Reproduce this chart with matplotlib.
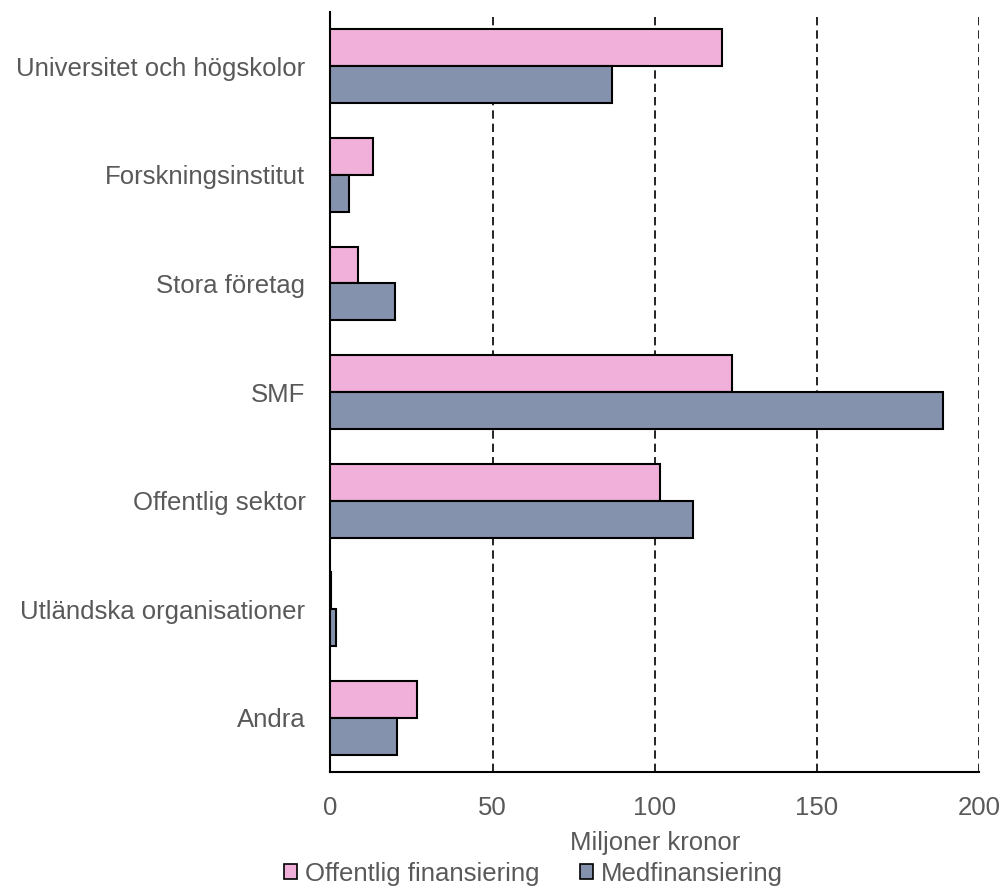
import matplotlib
matplotlib.use("Agg")
import matplotlib.pyplot as plt
from matplotlib.patches import Patch
import numpy as np

plt.rcParams['font.family'] = ['Liberation Sans', 'DejaVu Sans']

categories = [
    "Universitet och högskolor",
    "Forskningsinstitut",
    "Stora företag",
    "SMF",
    "Offentlig sektor",
    "Utländska organisationer",
    "Andra",
]
offentlig = [120.7, 13.2, 8.6, 123.8, 101.5, 0.2, 26.8]
medfin = [86.7, 5.8, 19.8, 189.0, 111.7, 1.7, 20.5]
series_names = ["Offentlig finansiering", "Medfinansiering"]
xticks = [0, 50, 100, 150, 200]

pink = "#F0B0D9"
slate = "#8592AD"
gray = "#595959"
fs = 18.5

fig = plt.figure(figsize=(10.03, 8.92), dpi=100)
ax = fig.add_axes([0.3295, 0.1345, 0.6465, 0.852])

y = np.arange(len(categories))
h = 0.34
ax.barh(y - h / 2, offentlig, height=h, color=pink, edgecolor="black", linewidth=1.5, zorder=3)
ax.barh(y + h / 2, medfin, height=h, color=slate, edgecolor="black", linewidth=1.5, zorder=3)

ax.set_ylim(len(categories) - 0.5, -0.5)
ax.set_xlim(0, 200)
ax.set_yticks(y)
ax.set_yticklabels(categories, fontsize=fs, color=gray)
ax.set_xticks(xticks)
ax.set_xticklabels([str(t) for t in xticks], fontsize=fs, color=gray)
ax.tick_params(axis="both", length=0)
ax.tick_params(axis="x", pad=17)
ax.tick_params(axis="y", pad=18)

for t in xticks[1:]:
    ax.axvline(t, color="black", linestyle=(0, (5, 3)), linewidth=1.2, zorder=1)

for s in ["top", "right"]:
    ax.spines[s].set_visible(False)
for s in ["left", "bottom"]:
    ax.spines[s].set_color("black")
    ax.spines[s].set_linewidth(1.5)

ax.set_xlabel("Miljoner kronor", fontsize=fs, color=gray, labelpad=8)

handles = [Patch(facecolor=pink, edgecolor="black", linewidth=1.2),
           Patch(facecolor=slate, edgecolor="black", linewidth=1.2)]
fig.legend(handles, series_names, loc="lower center", bbox_to_anchor=(0.532, -0.019),
           ncol=2, frameon=False, fontsize=fs, handlelength=0.5, handleheight=0.5,
           handletextpad=0.3, columnspacing=1.6, labelcolor=gray)

fig.savefig("out.png", dpi=100)
